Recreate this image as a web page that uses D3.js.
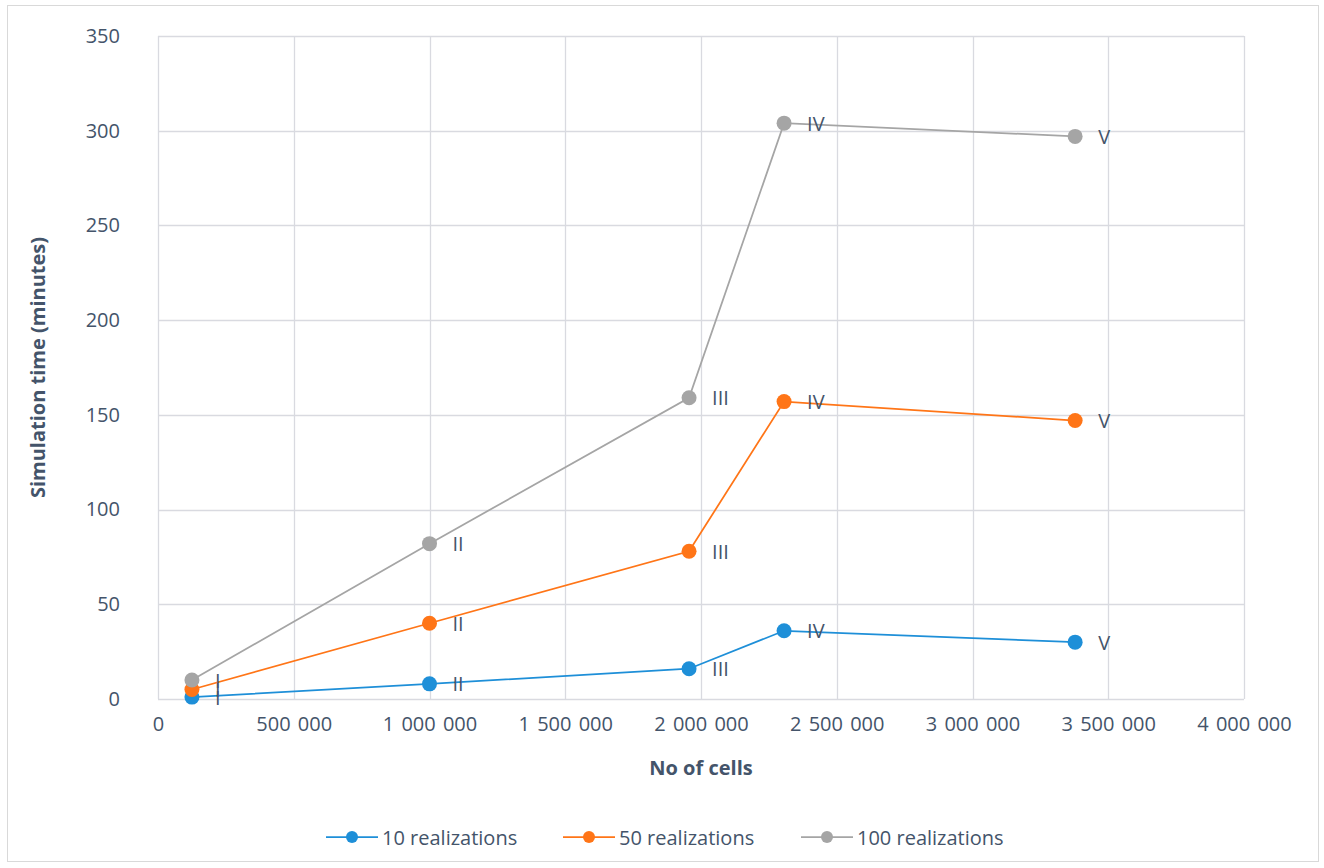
<!DOCTYPE html>
<html>
<head>
<meta charset="utf-8">
<script src="https://cdn.jsdelivr.net/npm/d3@7"></script>
<style>
  html, body { margin: 0; padding: 0; background: #fff; }
  svg { display: block; }
  text { font-family: "Open Sans", "Noto Sans", sans-serif; fill: #44546a; }
</style>
</head>
<body>
<svg id="chart" width="1324" height="868"></svg>
<script>
// Grid sizes (number of cells) for mesh levels I..V
const cells = [125000, 1000000, 1956000, 2306000, 3378000];
const meshLabels = ["I", "II", "III", "IV", "V"];

// Simulation time in minutes per number of realizations
const time10 = [1, 8, 16, 36, 30];
const time50 = [5, 40, 78, 157, 147];
const time100 = [10, 82, 159, 304, 297];

const seriesNames = ["10 realizations", "50 realizations", "100 realizations"];
const seriesColors = ["#1e8fd8", "#ff7517", "#a5a5a5"];

const xTicks = [0, 500000, 1000000, 1500000, 2000000, 2500000, 3000000, 3500000, 4000000];
const yTicks = [0, 50, 100, 150, 200, 250, 300, 350];

const series = [time10, time50, time100].map((vals, i) => ({
  name: seriesNames[i],
  color: seriesColors[i],
  points: vals.map((v, j) => ({ x: cells[j], y: v, label: meshLabels[j] }))
}));

const svg = d3.select("#chart");
const plot = { left: 158, right: 1244, top: 36, bottom: 699 };

// outer chart frame
svg.append("rect")
  .attr("x", 7.5).attr("y", 5.5)
  .attr("width", 1311).attr("height", 856)
  .attr("fill", "#fff")
  .attr("stroke", "#d9d9d9").attr("stroke-width", 1);

const x = d3.scaleLinear().domain([0, 4000000]).range([plot.left, plot.right]);
const y = d3.scaleLinear().domain([0, 350]).range([plot.bottom, plot.top]);

const locale = d3.formatLocale({ decimal: ".", thousands: " ", grouping: [3], currency: ["", ""] });
const fmt = locale.format(",d");

// gridlines
const grid = svg.append("g").attr("stroke", "#d9dae0").attr("stroke-width", 1.3);
grid.selectAll("line.h").data(yTicks).join("line")
  .attr("x1", plot.left).attr("x2", plot.right)
  .attr("y1", d => Math.round(y(d)) + 0.5).attr("y2", d => Math.round(y(d)) + 0.5);
grid.selectAll("line.v").data(xTicks).join("line")
  .attr("y1", plot.top).attr("y2", plot.bottom)
  .attr("x1", d => Math.round(x(d)) + 0.5).attr("x2", d => Math.round(x(d)) + 0.5);

// x axis labels
const xAxis = svg.append("g")
  .attr("transform", `translate(0,${plot.bottom + 14})`)
  .call(d3.axisBottom(x).tickValues(xTicks).tickFormat(fmt).tickSize(0).tickPadding(4));
xAxis.select(".domain").remove();
xAxis.selectAll("text")
  .style("font-family", "'Open Sans', sans-serif")
  .style("font-size", "20px").style("word-spacing", "2px")
  .attr("fill", "#44546a");

// y axis labels
const yAxis = svg.append("g")
  .attr("transform", `translate(${plot.left - 38},0)`)
  .call(d3.axisLeft(y).tickValues(yTicks).tickFormat(d3.format("d")).tickSize(0).tickPadding(0));
yAxis.select(".domain").remove();
yAxis.selectAll("text")
  .style("font-family", "'Open Sans', sans-serif")
  .style("font-size", "20px")
  .attr("fill", "#44546a");

// axis titles
svg.append("text")
  .attr("x", (plot.left + plot.right) / 2).attr("y", 767)
  .attr("text-anchor", "middle").attr("dominant-baseline", "central")
  .style("font-size", "20px").style("font-weight", "bold")
  .text("No of cells");

svg.append("text")
  .attr("transform", `translate(37,${(plot.top + plot.bottom) / 2}) rotate(-90)`)
  .attr("text-anchor", "middle").attr("dominant-baseline", "central")
  .style("font-size", "20px").style("font-weight", "bold")
  .text("Simulation time (minutes)");

// series lines and markers
const line = d3.line().x(d => x(d.x)).y(d => y(d.y));
const sg = svg.selectAll("g.series").data(series).join("g").attr("class", "series");
sg.append("path")
  .attr("d", d => line(d.points))
  .attr("fill", "none")
  .attr("stroke", d => d.color)
  .attr("stroke-width", 1.75);
sg.each(function (s) {
  d3.select(this).selectAll("circle").data(s.points).join("circle")
    .attr("cx", d => x(d.x)).attr("cy", d => y(d.y))
    .attr("r", 7.5).attr("fill", s.color);
});

// mesh level labels next to each point
sg.each(function (s) {
  d3.select(this).selectAll("text.lbl").data(s.points).join("text")
    .attr("class", "lbl")
    .attr("x", d => x(d.x) + 23).attr("y", d => y(d.y))
    .attr("dominant-baseline", "central")
    .style("font-size", "20px")
    .text(d => d.label);
});

// legend
const legendPos = [352, 589, 827];
const lg = svg.selectAll("g.legend").data(series).join("g")
  .attr("class", "legend")
  .attr("transform", (d, i) => `translate(${legendPos[i]},837)`);
lg.append("line")
  .attr("x1", -26).attr("x2", 26).attr("y1", 0).attr("y2", 0)
  .attr("stroke", d => d.color).attr("stroke-width", 1.75);
lg.append("circle").attr("r", 6).attr("fill", d => d.color);
lg.append("text")
  .attr("x", 30).attr("y", 0)
  .attr("dominant-baseline", "central")
  .style("font-size", "20px")
  .text(d => d.name);
</script>
</body>
</html>
